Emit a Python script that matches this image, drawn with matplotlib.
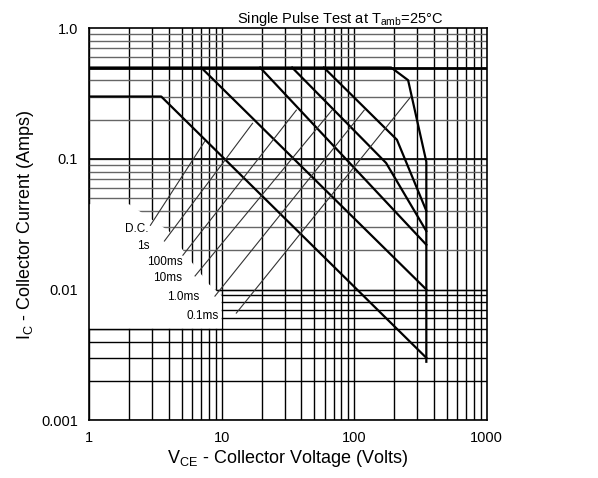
import matplotlib.pyplot as plt
from matplotlib.patches import Polygon

plt.rcParams['font.family'] = ['Liberation Sans', 'DejaVu Sans']

# safe operating area curves (volts, amps)
dc_v = [1, 3.5, 350]
dc_i = [0.3, 0.3, 0.003]
s1_v = [7, 350]
s1_i = [0.5, 0.01]
ms100_v = [19.5, 350]
ms100_i = [0.5, 0.022]
ms10_v = [34, 174, 350]
ms10_i = [0.5, 0.093, 0.028]
ms1_v = [59, 210, 350]
ms1_i = [0.5, 0.14, 0.04]
ms01_v = [1, 190, 255, 350, 350]
ms01_i = [0.5, 0.5, 0.4, 0.095, 0.0028]

labels = ['D.C.', '1s', '100ms', '10ms', '1.0ms', '0.1ms']
label_v = [2.3, 2.55, 3.7, 3.9, 5.1, 7.2]
label_i = [0.029, 0.0215, 0.0162, 0.0123, 0.0087, 0.0063]
lead_v0 = [2.9, 3.7, 5.1, 6.3, 8.9, 12.9]
lead_i0 = [0.031, 0.0235, 0.0183, 0.0127, 0.0089, 0.0066]
lead_v1 = [7.45, 17.1, 36.6, 68, 119, 268]
lead_i1 = [0.136, 0.187, 0.236, 0.236, 0.236, 0.30]

x_ticks = [1, 10, 100, 1000]
x_ticklabels = ['1', '10', '100', '1000']
y_ticks = [0.001, 0.01, 0.1, 1.0]
y_ticklabels = ['0.001', '0.01', '0.1', '1.0']

fig = plt.figure(figsize=(5.98, 4.78), dpi=100)
ax = fig.add_axes([0.149, 0.121, 0.665, 0.82])
ax.set_xscale('log')
ax.set_yscale('log')
ax.set_xlim(1, 1000)
ax.set_ylim(0.001, 1.0)

# grid lines (vertical black, upper horizontals greyish like the scan)
for dec in [1, 10, 100]:
    for m in range(1, 10):
        ax.axvline(dec * m, color='black', lw=1.0, zorder=1)
for dec in [0.001, 0.01, 0.1]:
    for m in range(1, 10):
        c = 'black' if dec * m < 0.01 else '0.4'
        ax.axhline(dec * m, color=c, lw=1.0, zorder=1)
ax.axhline(0.5, color='black', lw=2.0, zorder=3)
ax.axhline(0.1, color='black', lw=1.2, zorder=2)
ax.axhline(0.01, color='black', lw=1.0, zorder=2)

# blank area behind the labels
blank = Polygon([(1, 0.005), (10, 0.005), (10, 0.009), (8, 0.011), (6, 0.016),
                 (4, 0.028), (2, 0.045), (1, 0.045)],
                closed=True, facecolor='white', edgecolor='none', zorder=2)
ax.add_patch(blank)
ax.plot([1, 10], [0.005, 0.005], color='black', lw=1.0, zorder=2)

# curves
for v, i in [(dc_v, dc_i), (s1_v, s1_i), (ms100_v, ms100_i),
             (ms10_v, ms10_i), (ms1_v, ms1_i), (ms01_v, ms01_i)]:
    ax.plot(v, i, color='black', lw=1.6, zorder=4)

# labels with leader lines
for k in range(len(labels)):
    ax.text(label_v[k], label_i[k], labels[k], fontsize=8.5, ha='center', va='center', zorder=5)
    ax.plot([lead_v0[k], lead_v1[k]], [lead_i0[k], lead_i1[k]], color='0.2', lw=0.8, zorder=4)

ax.set_xticks(x_ticks)
ax.set_xticklabels(x_ticklabels)
ax.set_yticks(y_ticks)
ax.set_yticklabels(y_ticklabels)
ax.minorticks_off()
ax.tick_params(length=0, labelsize=10.5, pad=8)
for s in ax.spines.values():
    s.set_linewidth(1.2)

ax.set_xlabel(r'V$_{\mathregular{CE}}$ - Collector Voltage (Volts)', fontsize=13, labelpad=2)
ax.set_ylabel(r'I$_{\mathregular{C}}$ - Collector Current (Amps)', fontsize=13, labelpad=4)
ax.set_title(r'Single Pulse Test at T$_{\mathregular{amb}}$=25°C', fontsize=10.5, pad=-2, x=0.63)

fig.savefig('out.png')
